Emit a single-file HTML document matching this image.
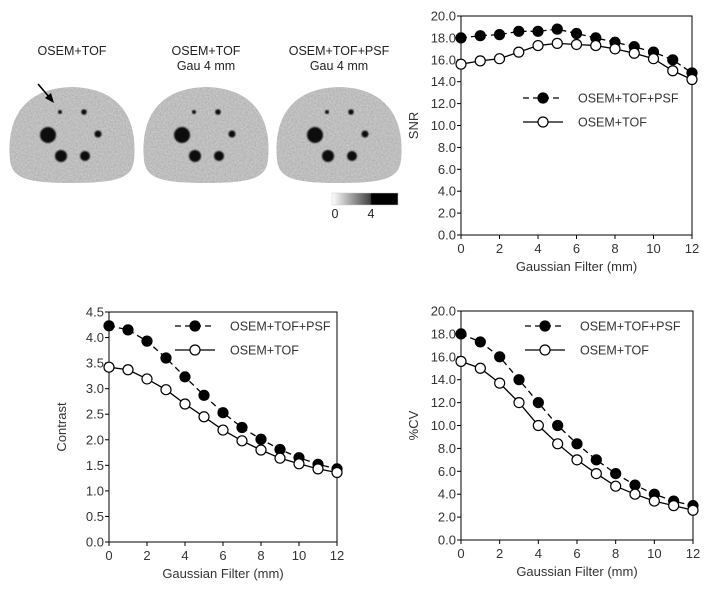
<!DOCTYPE html>
<html><head><meta charset="utf-8"><style>
html,body{margin:0;padding:0;background:#fff;}
svg{display:block;font-family:"Liberation Sans",Arial,sans-serif;}
</style></head><body>
<svg id="fig" width="710" height="597" viewBox="0 0 710 597">
<defs>
<filter id="noise" x="0" y="0" width="100%" height="100%">
<feTurbulence type="fractalNoise" baseFrequency="0.6" numOctaves="2" seed="3" result="t"/>
<feColorMatrix in="t" type="matrix" values="0 0 0 0 0.55  0 0 0 0 0.55  0 0 0 0 0.55  0 0 0 0.9 0" result="n"/>
<feComposite in="n" in2="SourceGraphic" operator="in" result="nn"/>
<feBlend in="SourceGraphic" in2="nn" mode="multiply"/>
</filter>
<filter id="blur"><feGaussianBlur stdDeviation="0.8"/></filter>
<linearGradient id="cbar" x1="0" x2="1" y1="0" y2="0">
<stop offset="0" stop-color="#fff"/><stop offset="0.58" stop-color="#444"/><stop offset="0.6" stop-color="#000"/><stop offset="1" stop-color="#000"/>
</linearGradient>
</defs>
<g id="phantoms"></g>
<g id="charts"></g>
</svg>
<script>
const NS="http://www.w3.org/2000/svg";
const svg=document.getElementById('fig');
function mk(tag,attrs,parent,text){const e=document.createElementNS(NS,tag);for(const k in attrs)e.setAttribute(k,attrs[k]);if(text!==undefined)e.textContent=text;(parent||svg).appendChild(e);return e;}

// ---------- phantom panels ----------
const ph=document.getElementById('phantoms');
const panelX=[8,142,275];
const panelTitles=[["OSEM+TOF"],["OSEM+TOF","Gau 4 mm"],["OSEM+TOF+PSF","Gau 4 mm"]];
const spots=[[40,135,8],[52,112,2],[76,112,2.8],[90,134,3.5],[53,156,6],[77,156,5]];
panelX.forEach((px,i)=>{
  const g=mk('g',{},ph);
  
  
  panelTitles[i].forEach((t,j)=>{
    const tx=mk('text',{x:px+64,y:55+j*15,'text-anchor':'middle','font-size':12.5,fill:'#222'},g,t);
    
    
  });
  const d=`M${px+2},160 C${px-2},120 ${px+15},88 ${px+64},87 C${px+113},88 ${px+130},120 ${px+126},160 C${px+124},178 ${px+110},183 ${px+64},183 C${px+18},183 ${px+4},178 ${px+2},160 Z`;
  const body=mk('path',{d:d,fill:'#d2d2d2',filter:'url(#noise)'},g);
  
  
  spots.forEach(s=>{
    const c=mk('circle',{cx:px+s[0],cy:s[1],r:s[2],fill:'#111',filter:'url(#blur)'},g);
    
    
  });
});
const arrow=mk('g',{},ph);


mk('line',{x1:38,y1:84,x2:50,y2:98,stroke:'#000','stroke-width':1.6},arrow);
mk('path',{d:'M54,103 L45,98 L51,93 Z',fill:'#000'},arrow);
const cb=mk('rect',{x:332,y:193,width:66,height:12,fill:'url(#cbar)',stroke:'#ccc','stroke-width':0.5});


[['0',335],['4',371]].forEach(l=>{const t=mk('text',{x:l[1],y:218,'text-anchor':'middle','font-size':12.5,fill:'#222'},svg,l[0]);

});

// ---------- chart data ----------
const xTicks=[0,2,4,6,8,10,12];
const xValues=[0,1,2,3,4,5,6,7,8,9,10,11,12];
const snrPsf=[18.0,18.2,18.3,18.6,18.6,18.8,18.4,18.0,17.6,17.2,16.7,16.0,14.8];
const snrTof=[15.6,15.9,16.1,16.7,17.3,17.5,17.4,17.3,17.0,16.6,16.1,15.0,14.2];
const snrTicks=[0,2,4,6,8,10,12,14,16,18,20];
const conPsf=[4.23,4.15,3.93,3.6,3.23,2.87,2.53,2.24,2.01,1.81,1.65,1.52,1.43];
const conTof=[3.42,3.37,3.19,2.98,2.7,2.45,2.19,1.98,1.80,1.64,1.53,1.43,1.36];
const conTicks=[0,0.5,1,1.5,2,2.5,3,3.5,4,4.5];
const cvPsf=[18.0,17.3,16.0,14.0,12.0,10.0,8.4,7.0,5.8,4.8,4.0,3.4,3.0];
const cvTof=[15.6,15.0,13.7,12.0,10.0,8.4,7.0,5.8,4.7,4.0,3.4,3.0,2.6];
const cvTicks=[0,2,4,6,8,10,12,14,16,18,20];
const seriesNames=["OSEM+TOF+PSF","OSEM+TOF"];

function chart(cfg){
  const g=mk('g',{},document.getElementById('charts'));
  
  
  const xs=v=>cfg.x0+(v-0)/(12-0)*(cfg.x1-cfg.x0);
  const ymax=cfg.ticks[cfg.ticks.length-1];
  const ys=v=>cfg.y0-(v/ymax)*(cfg.y0-cfg.y1);
  const ax=mk('path',{d:`M${cfg.x0},${cfg.y1} V${cfg.y0} H${cfg.x1} V${cfg.y1} H${cfg.x0}`,fill:'none',stroke:'#000','stroke-width':1},g);
  
  
  cfg.ticks.forEach(t=>{
    mk('line',{x1:cfg.x0-4,x2:cfg.x0,y1:ys(t),y2:ys(t),stroke:'#000'},g);
    const l=mk('text',{x:cfg.x0-5,y:ys(t)+4.5,'text-anchor':'end','font-size':13,fill:'#333'},g,t.toFixed(1));
    
    
  });
  xTicks.forEach(t=>{
    mk('line',{x1:xs(t),x2:xs(t),y1:cfg.y0,y2:cfg.y0+4,stroke:'#000'},g);
    const l=mk('text',{x:xs(t),y:cfg.y0+18,'text-anchor':'middle','font-size':13,fill:'#333'},g,String(t));
    
    
  });
  const xt=mk('text',{x:(cfg.x0+cfg.x1)/2,y:cfg.y0+36,'text-anchor':'middle','font-size':13,fill:'#333'},g,'Gaussian Filter (mm)');
  
  
  const yt=mk('text',{x:0,y:0,'text-anchor':'middle','font-size':13,fill:'#333',transform:`translate(${cfg.ytx},${(cfg.y0+cfg.y1)/2}) rotate(-90)`},g,cfg.ytitle);
  
  
  [cfg.psf,cfg.tof].forEach((arr,si)=>{
    const sg=mk('g',{},g);
    
    
    const pts=arr.map((v,i)=>xs(xValues[i])+','+ys(v)).join(' ');
    mk('polyline',{points:pts,fill:'none',stroke:'#000','stroke-width':1.3,'stroke-dasharray':si===0?'6,4':'none'},sg);
    arr.forEach((v,i)=>{
      const c=mk('circle',{cx:xs(xValues[i]),cy:ys(v),r:5,fill:si===0?'#000':'#fff',stroke:'#000','stroke-width':1.2},sg);
      
      
    });
  });
  const lg=mk('g',{},g);
  
  
  seriesNames.forEach((n,i)=>{
    const y=cfg.ly+i*24;
    const e=mk('g',{},lg);
    
    
    mk('line',{x1:cfg.lx,x2:cfg.lx+40,y1:y,y2:y,stroke:'#000','stroke-width':1.3,'stroke-dasharray':i===0?'6,4':'none'},e);
    mk('circle',{cx:cfg.lx+20,cy:y,r:5,fill:i===0?'#000':'#fff',stroke:'#000','stroke-width':1.2},e);
    mk('text',{x:cfg.lx+55,y:y+4.5,'font-size':12.5,fill:'#333'},e,n);
  });
}
chart({name:'snr-chart',x0:461,x1:692,y0:235,y1:16,ticks:snrTicks,psf:snrPsf,tof:snrTof,ytitle:'SNR',ytx:418,lx:523,ly:98});
chart({name:'contrast-chart',x0:109,x1:337,y0:542,y1:312,ticks:conTicks,psf:conPsf,tof:conTof,ytitle:'Contrast',ytx:66,lx:175,ly:326});
chart({name:'cv-chart',x0:461,x1:693,y0:540,y1:311,ticks:cvTicks,psf:cvPsf,tof:cvTof,ytitle:'%CV',ytx:418,lx:525,ly:326});
</script>
</body></html>
